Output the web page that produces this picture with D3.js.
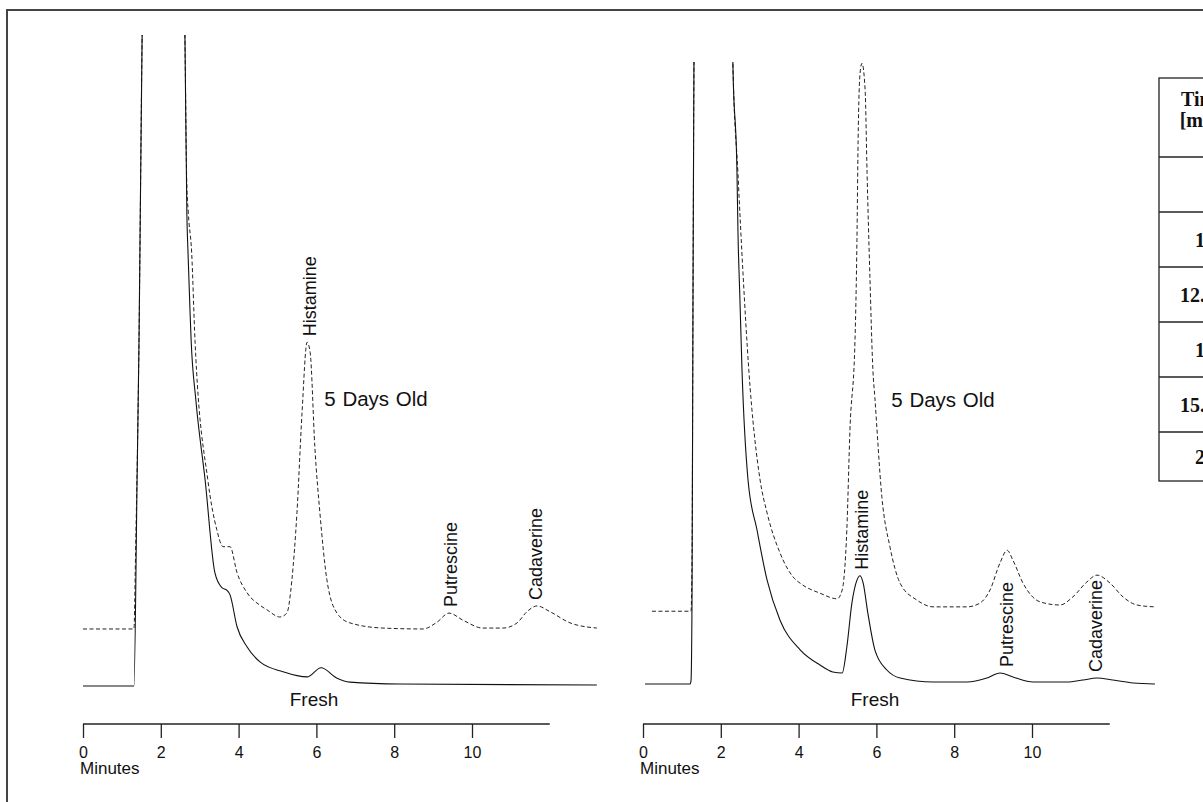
<!DOCTYPE html>
<html><head><meta charset="utf-8">
<script src="https://cdn.jsdelivr.net/npm/d3@7"></script>
<style>body{margin:0;background:#fff} svg{display:block}</style>
</head><body><svg id="c" width="1203" height="802"></svg>
<script>
// ---------- data (time in minutes, detector response in % of full scale) ----------
const minuteTicks = [0, 2, 4, 6, 8, 10];
const axisMax = 12;

const leftFresh = [[0,0],[1.31,0],[1.39,31.6],[1.44,53.1],[1.52,100],[1.56,115],[2.0,140],[2.58,115],[2.62,100],
 [2.67,72.5],[2.70,66.5],[2.75,57.8],[2.78,53.1],[2.90,44.0],[3.14,31.6],[3.39,17.4],[3.57,15.1],[3.70,14.7],
 [3.78,14.0],[3.96,9.1],[4.22,6.0],[4.55,3.7],[5.14,2.2],[5.76,1.4],[6.12,2.8],[6.53,1.2],[6.86,0.6],[8.15,0.3],[13.21,0.15]];

const leftAged = [[0,8.76],[1.31,8.76],[1.35,20],[1.44,53.1],[1.52,100],[1.56,115],[2.0,140],[2.58,115],[2.62,100],
 [2.666,77.7],[2.707,72.7],[2.794,66.5],[2.879,53.1],[3.21,31.6],[3.44,24.0],[3.60,21.4],[3.78,21.4],[3.96,17.4],
 [4.22,14.3],[4.55,12.4],[4.73,11.7],[5.06,10.6],[5.24,11.2],[5.37,16.3],[5.50,26.6],[5.63,41.9],[5.76,52.8],
 [5.84,51.2],[5.96,36.7],[6.09,26.6],[6.27,16.3],[6.53,11.2],[6.86,9.7],[7.71,8.9],[8.74,8.76],[9.10,9.8],
 [9.41,11.2],[9.77,10.1],[10.28,8.9],[10.80,8.9],[11.16,9.7],[11.41,11.4],[11.67,12.3],[12.01,11.4],[12.52,9.7],[13.21,8.9]];

const rightFresh = [[0.05,0],[1.21,0],[1.234,0.5],[1.26,13.5],[1.285,61.7],[1.31,100],[1.35,120],[1.8,150],[2.27,120],
 [2.31,100],[2.416,82.2],[2.442,72.5],[2.49,62.2],[2.545,50.5],[2.70,32.8],[2.93,24.8],[3.19,16.7],[3.52,10.3],
 [4.04,5.5],[4.55,3.05],[4.88,1.93],[5.12,1.77],[5.24,5.95],[5.37,13.0],[5.50,16.7],[5.58,17.4],[5.66,16.2],
 [5.78,11.4],[5.96,5.5],[6.27,2.25],[6.61,0.96],[7.46,0.32],[8.33,0.32],[8.84,0.96],[9.18,1.77],[9.51,1.13],
 [10.03,0.32],[10.90,0.32],[11.31,0.64],[11.67,0.96],[12.08,0.64],[12.60,0.16],[13.16,0]];

const rightAged = [[0.23,11.7],[1.234,11.7],[1.26,19.9],[1.285,61.7],[1.31,100],[1.35,120],[1.8,150],[2.27,120],
 [2.31,100],[2.44,82.2],[2.57,66.1],[2.72,50.5],[3.01,32.8],[3.19,27.5],[3.52,21.1],[3.86,17.2],[4.04,16.2],
 [4.55,14.6],[4.99,13.7],[5.12,15.1],[5.24,24.8],[5.32,40.8],[5.45,55.3],[5.50,71.4],[5.53,87.5],[5.58,98.2],
 [5.63,99.8],[5.71,95.5],[5.76,82.2],[5.83,66.1],[5.91,50.5],[5.96,46.1],[6.14,30.1],[6.35,22.0],[6.61,16.2],
 [7.04,13.5],[7.46,12.4],[8.33,12.4],[8.66,13.0],[8.92,15.1],[9.18,19.5],[9.36,21.5],[9.51,19.9],[9.77,16.2],
 [10.21,13.2],[10.72,12.7],[11.05,14.0],[11.41,16.4],[11.67,17.5],[12.01,16.2],[12.34,14.0],[12.70,12.7],[13.16,12.4]];

const leftPeakNames = ["Histamine", "Putrescine", "Cadaverine"];
const leftPeakTimes = [5.82, 9.45, 11.63];
const rightPeakNames = ["Histamine", "Putrescine", "Cadaverine"];
const rightPeakTimes = [5.62, 9.34, 11.62];

const traceNames = ["5 Days Old", "Fresh"];
const axisTitle = "Minutes";

const tableHeader = ["Time", "[min]"];
const tableTimes = ["0", "10", "12.5", "13", "15.5", "20"];

// ---------- drawing ----------
const svg = d3.select("#c");
const FONT = "'Liberation Sans', Arial, Helvetica, sans-serif";

// outer frame
svg.append("rect").attr("x", 7).attr("y", 10).attr("width", 1250).attr("height", 820)
  .attr("fill", "none").attr("stroke", "#444").attr("stroke-width", 2);

const panels = [
  {id: "L", fresh: leftFresh, aged: leftAged, x0: 83, yTop: 35, yBase: 686,
   names: leftPeakNames, times: leftPeakTimes, labelSeries: "aged",
   agedLabel: [376, 406], freshLabel: [314, 706]},
  {id: "R", fresh: rightFresh, aged: rightAged, x0: 643, yTop: 62, yBase: 684,
   names: rightPeakNames, times: rightPeakTimes, labelSeries: "fresh",
   agedLabel: [943, 407], freshLabel: [875, 706]}
];

const pxPerMin = 38.9;
const axisY = 724;

panels.forEach(p => {
  const x = d3.scaleLinear().domain([0, axisMax]).range([p.x0, p.x0 + axisMax * pxPerMin]);
  const y = d3.scaleLinear().domain([0, 100]).range([p.yBase, p.yTop]);

  const clipId = "clip" + p.id;
  svg.append("clipPath").attr("id", clipId).append("rect")
    .attr("x", p.x0 - 10).attr("y", p.yTop).attr("width", 600).attr("height", 700);

  const line = d3.line().x(d => x(d[0])).y(d => y(d[1])).curve(d3.curveMonotoneX);
  const g = svg.append("g").attr("clip-path", `url(#${clipId})`);
  g.append("path").datum(p.aged).attr("d", line).attr("fill", "none")
    .attr("stroke", "#222").attr("stroke-width", 1).attr("stroke-dasharray", "4,2.5");
  g.append("path").datum(p.fresh).attr("d", line).attr("fill", "none")
    .attr("stroke", "#111").attr("stroke-width", 1.1);

  // axis
  const axis = d3.axisBottom(x).tickValues(minuteTicks).tickSize(14).tickPadding(5).tickFormat(d3.format("d"));
  const ag = svg.append("g").attr("transform", `translate(0,${axisY})`).call(axis);
  ag.select(".domain").attr("d", `M${x(0)},0H${x(axisMax)}`).attr("stroke", "#222").attr("stroke-width", 1.4);
  ag.selectAll(".tick line").attr("stroke", "#222").attr("stroke-width", 1.3);
  ag.selectAll(".tick text").attr("font-family", FONT).attr("font-size", 16).attr("fill", "#111")
    .attr("dy", "0.95em");
  svg.append("text").attr("x", x(0) - 3).attr("y", 774).text(axisTitle)
    .attr("font-family", FONT).attr("font-size", 17).attr("fill", "#111");

  // series labels
  svg.append("text").attr("x", p.agedLabel[0]).attr("y", p.agedLabel[1]).text(traceNames[0])
    .attr("text-anchor", "middle").attr("font-family", FONT).attr("font-size", 20.5)
    .attr("word-spacing", 1).attr("fill", "#111");
  svg.append("text").attr("x", p.freshLabel[0]).attr("y", p.freshLabel[1]).text(traceNames[1])
    .attr("text-anchor", "middle").attr("font-family", FONT).attr("font-size", 19).attr("fill", "#111");

  // peak labels
  const series = p[p.labelSeries];
  p.names.forEach((name, i) => {
    const t = p.times[i];
    const near = series.filter(d => Math.abs(d[0] - t) <= 0.25);
    const vmax = d3.max(near, d => d[1]);
    const bx = x(t) + 6.5;
    const by = y(vmax) - 6;
    svg.append("text").attr("transform", `translate(${bx},${by}) rotate(-90)`)
      .text(name).attr("font-family", FONT).attr("font-size", 18).attr("fill", "#111");
  });
});

// ---------- table (cropped at right edge) ----------
const tX = 1159, tTop = 78, headH = 79, rowH = 55, tBottom = 481, colW = 88, valRight = 1215;
const tg = svg.append("g");
const nRows = tableTimes.length;
tg.append("rect").attr("x", tX).attr("y", tTop).attr("width", 200).attr("height", tBottom - tTop)
  .attr("fill", "#fff").attr("stroke", "#222").attr("stroke-width", 1.3);
const rowTop = i => tTop + headH + rowH * i;
const rowBot = i => Math.min(rowTop(i + 1), tBottom);
d3.range(nRows).forEach(i => {
  tg.append("line").attr("x1", tX).attr("x2", tX + 200)
    .attr("y1", rowTop(i)).attr("y2", rowTop(i))
    .attr("stroke", "#222").attr("stroke-width", 1.3);
});
const cx = tX + colW / 2;
const SERIF = "'Liberation Serif', 'Times New Roman', serif";
tableHeader.forEach((h, i) => {
  tg.append("text").attr("x", cx).attr("y", tTop + 28 + i * 21).text(h)
    .attr("text-anchor", "middle").attr("font-family", SERIF).attr("font-weight", "bold")
    .attr("font-size", 20).attr("fill", "#111");
});
tableTimes.forEach((v, i) => {
  tg.append("text").attr("x", valRight).attr("y", (rowTop(i) + rowBot(i)) / 2 + 7).text(v)
    .attr("text-anchor", "end").attr("font-family", SERIF).attr("font-weight", "bold")
    .attr("font-size", 20).attr("fill", "#111");
});
</script></body></html>
